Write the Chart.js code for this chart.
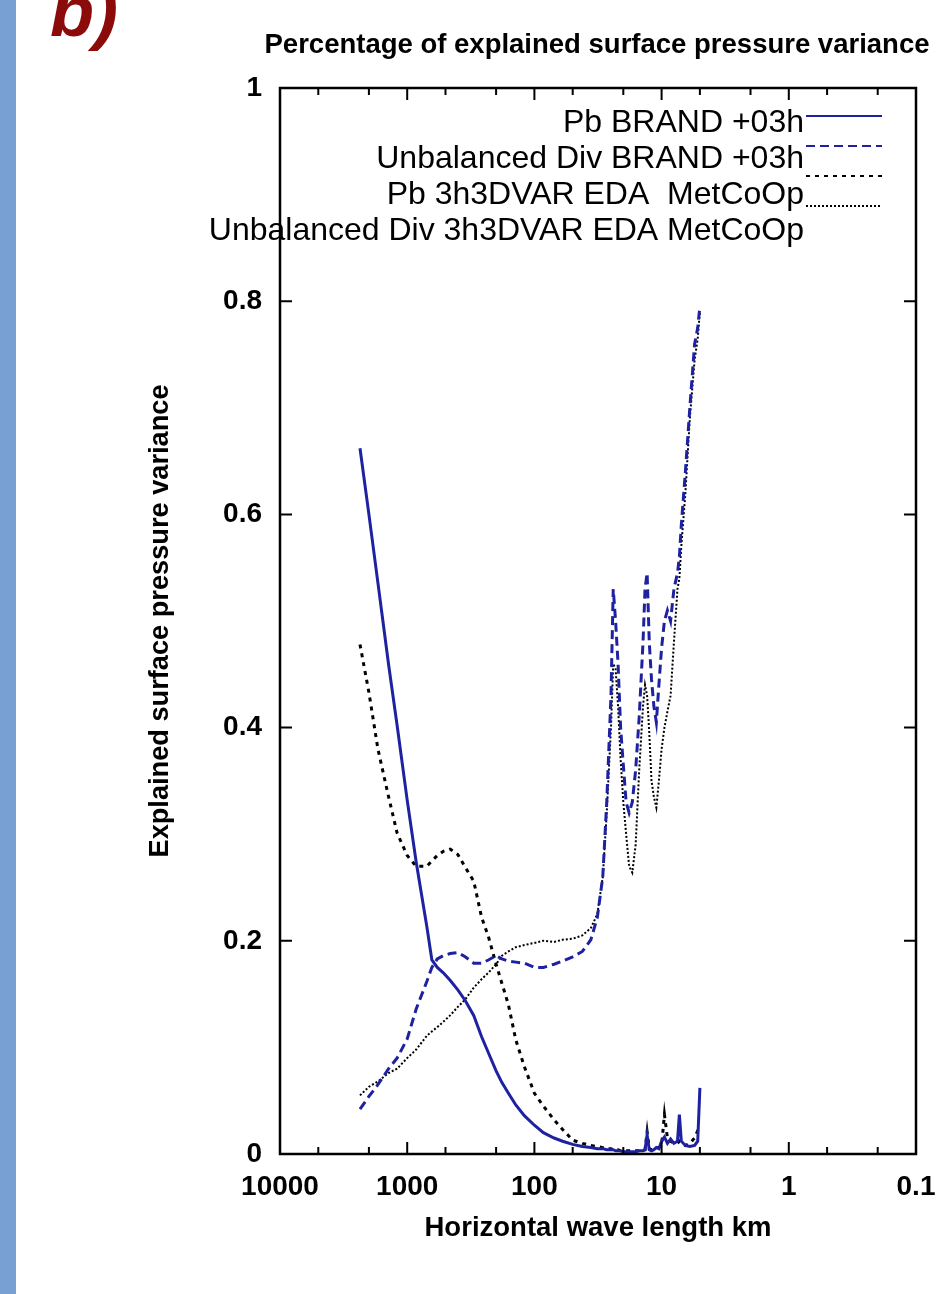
<!DOCTYPE html>
<html lang="en">
<head>
<meta charset="UTF-8">
<title>Percentage of explained surface pressure variance</title>
<style>
    html, body {
        margin: 0;
        padding: 0;
        background: #fff;
    }

    body {
        width: 948px;
        height: 1294px;
        position: relative;
        overflow: hidden;
        font-family: "Liberation Sans", Arial, sans-serif;
    }

    .side-bar {
        position: absolute;
        left: 0;
        top: 0;
        width: 16px;
        height: 1294px;
        background: #78a0d2;
    }

    .chart-box {
        position: absolute;
        left: 0;
        top: 0;
        width: 948px;
        height: 1294px;
    }

    .panel-tag {
        position: absolute;
        left: 50px;
        top: -30px;
        font: italic bold 72px "Liberation Sans", Arial, sans-serif;
        color: #8b0a0a;
    }
</style>
</head>
<body>
<div class="side-bar"></div>
<div class="chart-box"><canvas id="varianceChart" width="948" height="1294"></canvas></div>
<div class="panel-tag">b)</div>

<script src="https://cdn.jsdelivr.net/npm/chart.js"></script>
<script>
// horizontal wave length (km)
const wavelengthKm = [2350, 2000, 1700, 1400, 1200, 1000, 850, 700, 640, 580,
    520, 460, 400, 350, 300, 260, 230, 200, 180, 160,
    140, 120, 100, 85, 70, 60, 50, 42, 36, 32,
    29, 27, 25, 24, 23, 22, 21, 20, 19, 18,
    17, 16, 15, 14, 13.5, 13, 12.5, 12, 11.5, 11,
    10.5, 10, 9.5, 9, 8.5, 8, 7.5, 7.25, 7, 6.5,
    6, 5.5, 5.2, 5];

const pbBrand = [0.662, 0.600, 0.536, 0.459, 0.402, 0.332, 0.274, 0.213, 0.182, 0.175,
    0.170, 0.163, 0.154, 0.144, 0.130, 0.110, 0.095, 0.078, 0.067, 0.057,
    0.046, 0.036, 0.027, 0.020, 0.015, 0.012, 0.009, 0.007, 0.006, 0.005,
    0.005, 0.004, 0.004, 0.004, 0.003, 0.003, 0.003, 0.002, 0.002, 0.002,
    0.002, 0.002, 0.003, 0.003, 0.004, 0.018, 0.004, 0.003, 0.004, 0.006,
    0.005, 0.012, 0.016, 0.010, 0.014, 0.010, 0.012, 0.037, 0.012, 0.008,
    0.007, 0.008, 0.012, 0.062];

const unbalDivBrand = [0.042, 0.054, 0.065, 0.080, 0.090, 0.108, 0.136, 0.162, 0.175, 0.183,
    0.186, 0.188, 0.189, 0.185, 0.179, 0.179, 0.182, 0.186, 0.183, 0.181,
    0.180, 0.179, 0.175, 0.175, 0.178, 0.181, 0.185, 0.190, 0.201, 0.222,
    0.26, 0.33, 0.43, 0.53, 0.50, 0.46, 0.40, 0.365, 0.33, 0.32,
    0.33, 0.36, 0.41, 0.48, 0.53, 0.545, 0.48, 0.445, 0.42, 0.405,
    0.44, 0.475, 0.50, 0.51, 0.50, 0.53, 0.545, 0.56, 0.59, 0.64,
    0.70, 0.76, 0.775, 0.795];

const pbMetCoOp = [0.478, 0.433, 0.380, 0.335, 0.301, 0.280, 0.270, 0.270, 0.275, 0.280,
    0.284, 0.286, 0.281, 0.269, 0.256, 0.222, 0.204, 0.178, 0.160, 0.140,
    0.107, 0.082, 0.057, 0.045, 0.032, 0.023, 0.013, 0.010, 0.008, 0.007,
    0.006, 0.005, 0.005, 0.004, 0.004, 0.004, 0.003, 0.003, 0.003, 0.003,
    0.003, 0.003, 0.003, 0.004, 0.004, 0.021, 0.005, 0.004, 0.005, 0.006,
    0.006, 0.008, 0.037, 0.015, 0.012, 0.010, 0.010, 0.012, 0.010, 0.008,
    0.010, 0.015, 0.022, 0.025];

const unbalDivMetCoOp = [0.055, 0.063, 0.068, 0.076, 0.080, 0.090, 0.098, 0.111, 0.115, 0.119,
    0.124, 0.130, 0.138, 0.145, 0.156, 0.164, 0.170, 0.178, 0.186, 0.190,
    0.194, 0.196, 0.198, 0.200, 0.199, 0.201, 0.202, 0.205, 0.212, 0.225,
    0.26, 0.32, 0.40, 0.46, 0.455, 0.42, 0.37, 0.33, 0.30, 0.27,
    0.264, 0.29, 0.36, 0.42, 0.44, 0.43, 0.395, 0.35, 0.335, 0.325,
    0.35, 0.38, 0.40, 0.415, 0.43, 0.48, 0.53, 0.54, 0.57, 0.62,
    0.69, 0.745, 0.765, 0.79];

const seriesLabels = [
    "Pb BRAND +03h",
    "Unbalanced Div BRAND +03h",
    "Pb 3h3DVAR EDA  MetCoOp",
    "Unbalanced Div 3h3DVAR EDA MetCoOp"
];

const xTickValues = [10000, 1000, 100, 10, 1, 0.1];
const xMinorFactors = [2, 5];
const yTickValues = [0.2, 0.4, 0.6, 0.8];

const chartTitle = "Percentage of explained surface pressure variance";
const xTitle = "Horizontal wave length km";
const yTitle = "Explained surface pressure variance";

const blue = "#1e22a0";
const FONT = '"Liberation Sans", Arial, sans-serif';

function pairs(values) {
    return values.map((v, i) => ({ x: wavelengthKm[i], y: v }));
}

// gnuplot-like frame, inward ticks, titles and key
const gnuplotDecor = {
    id: "gnuplotDecor",
    afterDatasetsDraw(chart) {
        const { ctx, chartArea: a, scales: { x, y } } = chart;
        ctx.save();

        // key
        ctx.font = "32px " + FONT;
        ctx.fillStyle = "#000";
        ctx.textAlign = "right";
        ctx.textBaseline = "middle";
        chart.data.datasets.forEach((ds, i) => {
            ctx.fillText(ds.label, 804, 123 + i * 36);
            ctx.beginPath();
            ctx.setLineDash(ds.borderDash || []);
            ctx.lineWidth = Math.min(ds.borderWidth, 2);
            ctx.strokeStyle = ds.borderColor;
            ctx.moveTo(806, 116 + i * 30);
            ctx.lineTo(882, 116 + i * 30);
            ctx.stroke();
        });
        ctx.setLineDash([]);

        // frame
        ctx.strokeStyle = "#000";
        ctx.lineWidth = 2.5;
        ctx.strokeRect(a.left, a.top, a.width, a.height);

        // x ticks, inward on bottom and top
        ctx.lineWidth = 2;
        const xs = [];
        xTickValues.forEach(v => {
            xs.push([v, 12]);
            xMinorFactors.forEach(f => {
                if (v * f <= 10000) xs.push([v * f, 7]);
            });
        });
        xs.forEach(([v, len]) => {
            const px = x.getPixelForValue(v);
            ctx.beginPath();
            ctx.moveTo(px, a.bottom);
            ctx.lineTo(px, a.bottom - len);
            ctx.moveTo(px, a.top);
            ctx.lineTo(px, a.top + len);
            ctx.stroke();
        });

        // y ticks, inward on left and right
        yTickValues.forEach(v => {
            const py = y.getPixelForValue(v);
            ctx.beginPath();
            ctx.moveTo(a.left, py);
            ctx.lineTo(a.left + 12, py);
            ctx.moveTo(a.right, py);
            ctx.lineTo(a.right - 12, py);
            ctx.stroke();
        });

        // titles
        ctx.fillStyle = "#000";
        ctx.textAlign = "center";
        ctx.textBaseline = "middle";
        ctx.font = "bold 28px " + FONT;
        ctx.fillText(chartTitle, 597, 45, 665);
        ctx.fillText(xTitle, 598, 1228, 347);
        ctx.translate(160, 621);
        ctx.rotate(-Math.PI / 2);
        ctx.fillText(yTitle, 0, 0, 473);

        ctx.restore();
    }
};

const ctx = document.getElementById("varianceChart").getContext("2d");

new Chart(ctx, {
    type: "line",
    data: {
        datasets: [
            {
                label: seriesLabels[0],
                data: pairs(pbBrand),
                borderColor: blue,
                borderWidth: 3
            },
            {
                label: seriesLabels[1],
                data: pairs(unbalDivBrand),
                borderColor: blue,
                borderWidth: 3,
                borderDash: [9, 5]
            },
            {
                label: seriesLabels[2],
                data: pairs(pbMetCoOp),
                borderColor: "#000",
                borderWidth: 3,
                borderDash: [4, 5]
            },
            {
                label: seriesLabels[3],
                data: pairs(unbalDivMetCoOp),
                borderColor: "#000",
                borderWidth: 2,
                borderDash: [2, 2]
            }
        ]
    },
    options: {
        responsive: false,
        animation: false,
        devicePixelRatio: 1,
        elements: {
            point: { radius: 0 },
            line: { tension: 0, fill: false }
        },
        layout: {
            padding: { left: 0, top: 88, right: 32, bottom: 0 }
        },
        plugins: {
            legend: { display: false },
            title: { display: false },
            tooltip: { enabled: false }
        },
        scales: {
            x: {
                type: "logarithmic",
                reverse: true,
                min: 0.1,
                max: 10000,
                grid: { display: false, drawTicks: false },
                border: { display: false },
                afterBuildTicks: scale => {
                    scale.ticks = xTickValues.map(v => ({ value: v }));
                },
                afterFit: scale => {
                    scale.height = 140;
                    scale.paddingLeft = 0;
                    scale.paddingRight = 0;
                },
                ticks: {
                    autoSkip: false,
                    maxRotation: 0,
                    padding: 16,
                    color: "#000",
                    font: { family: FONT, size: 28, weight: "bold" },
                    callback: v => String(v)
                }
            },
            y: {
                min: 0,
                max: 1,
                grid: { display: false, drawTicks: false },
                border: { display: false },
                afterFit: scale => {
                    scale.width = 280;
                    scale.paddingTop = 0;
                    scale.paddingBottom = 0;
                },
                ticks: {
                    stepSize: 0.2,
                    padding: 18,
                    color: "#000",
                    font: { family: FONT, size: 28, weight: "bold" },
                    callback: v => (v === 0 ? "0" : v === 1 ? "1" : v.toFixed(1))
                }
            }
        }
    },
    plugins: [gnuplotDecor]
});
</script>
</body>
</html>
